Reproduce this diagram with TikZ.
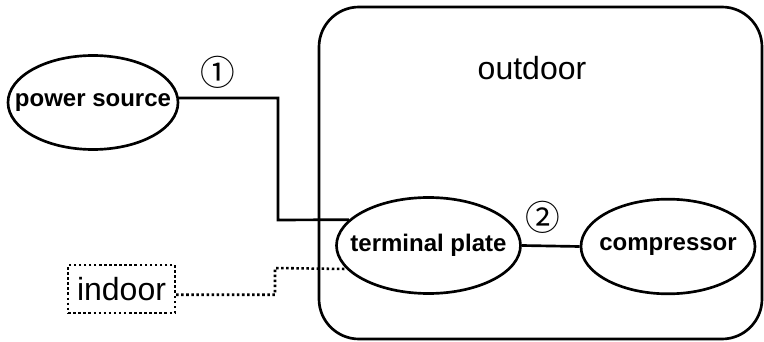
\documentclass[tikz,border=0pt]{standalone}
\usepackage{fontspec}
\setmainfont{Liberation Sans}
\newfontfamily\circfont{Noto Sans CJK JP}
\usetikzlibrary{shapes.geometric, positioning}
\newcommand{\tight}[1]{\makebox[0pt]{#1}} % keep text from widening the ellipse

\begin{document}
\begin{tikzpicture}[
        x=0.75pt, y=-0.75pt, % one unit is one pixel of the reference
        line width=2pt,
        part/.style={draw, ellipse, inner sep=0pt, font=\bfseries\fontsize{18}{20}\selectfont},
        place/.style={font=\fontsize{24}{28}\selectfont},
        wire/.style={line width=2pt},
        signal/.style={line width=1.9pt, dash pattern=on 1.9pt off 1.9pt},
        tag/.style={font=\circfont\fontsize{26}{30}\selectfont}
      ]
      \useasboundingbox (0,0) rectangle (764,342);

      % Nodes
      \node (outdoor) [draw, rounded corners=30pt, minimum width=332.25pt, minimum height=249pt] at (540.5,173) {};
      \node (outlabel) [place] at (532,68) {outdoor};
      \node (ps) [part, minimum width=127.5pt, minimum height=70.5pt] at (93,102.5) {\tight{power source}};
      \node (tp) [part, minimum width=138pt, minimum height=72pt] at (428.5,245.5) {\tight{terminal plate}};
      \node (comp) [part, minimum width=130.5pt, minimum height=71pt] at (668,246.5) {\tight{compressor}};
      \node (indoor) [place, draw, signal, minimum width=80pt, minimum height=36pt, inner sep=0pt] at (121.5,289) {indoor};
      \node (one) [tag] at (218,72) {①};
      \node (two) [tag] at (543,217) {②};
      \coordinate (kink1) at (278,220);
      \coordinate (kink2) at (275,268);

      % Wires
      \draw[wire] (ps.3) -| (kink1) -- (tp.162);
      \draw[wire] (tp.east) -- (comp.west);
      \draw[signal] (indoor.-6) -| (kink2) -- (tp.196);

    \end{tikzpicture}
\end{document}
